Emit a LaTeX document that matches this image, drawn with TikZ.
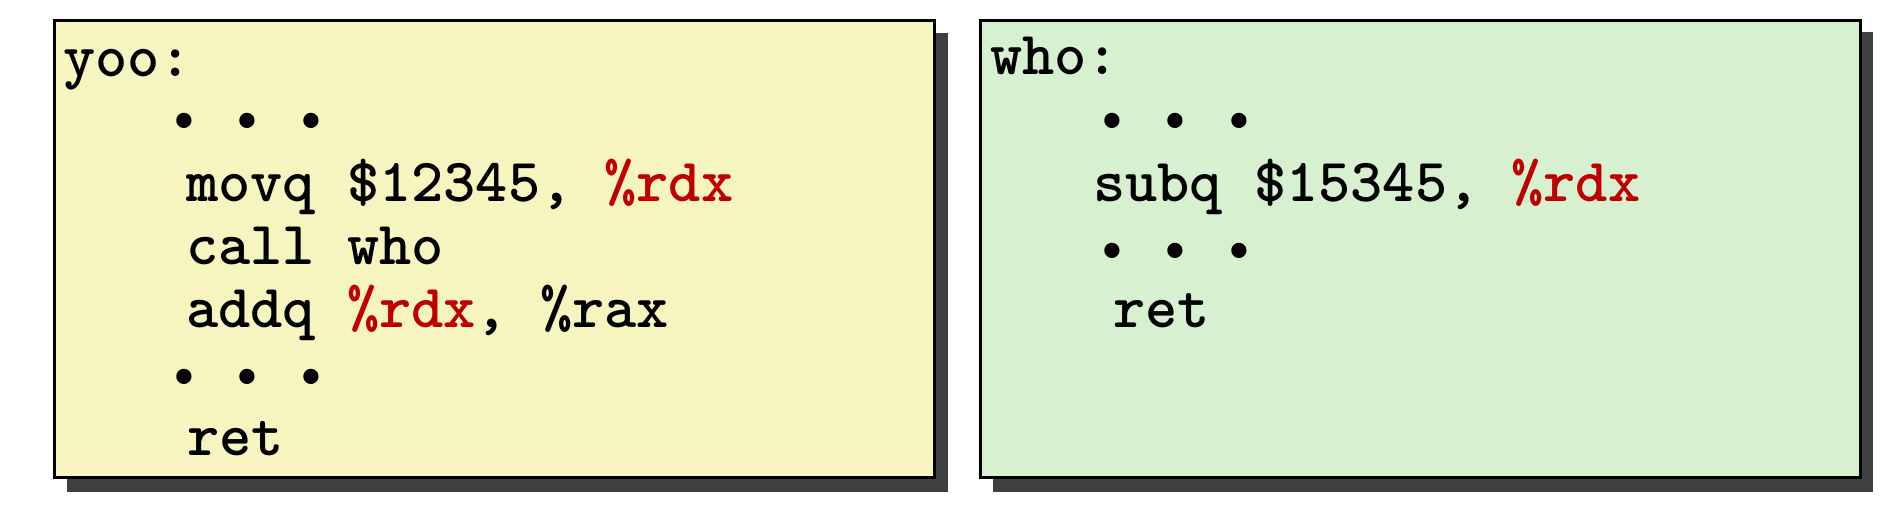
\documentclass[tikz,border=0pt]{standalone}
\usepackage{fontspec}
\newfontfamily\cour{Liberation Mono}
\definecolor{boxyellow}{RGB}{246,245,191}
\definecolor{boxgreen}{RGB}{214,240,208}
\definecolor{shadowgray}{RGB}{64,64,64}
\definecolor{regred}{RGB}{192,0,0}
\begin{document}
\begin{tikzpicture}[x=1pt,y=-1pt,
  code/.style={anchor=base west, inner sep=0pt, font=\ttfamily\bfseries\addfontfeature{FakeBold=1.5}\fontsize{61.3}{66}\selectfont},
  dots/.style={anchor=base west, inner sep=0pt, font=\cour\bfseries\fontsize{53}{60}\selectfont},
  shadowbox/.style={fill=shadowgray},
  codebox/.style={draw=black, line width=3pt}]
\useasboundingbox (0,0) rectangle (1902,510);
% left box
\fill[shadowbox] (67,33) rectangle (948,492);
\draw[codebox, fill=boxyellow] (54.5,20.5) rectangle (934,477);
% right box
\fill[shadowbox] (993,32) rectangle (1873,492);
\draw[codebox, fill=boxgreen] (980.5,20.5) rectangle (1860,477);
% left text
\node[code] (yoo) at (63,77) {yoo:};
\node[dots] (ydots1) at (168,139) {• • •};
\node[code] (ymovq) at (186,202) {movq \$12345, \textcolor{regred}{\%rdx}};
\node[code] (ycall) at (186,265) {call who};
\node[code] (yaddq) at (186,327) {addq \textcolor{regred}{\%rdx}, \%rax};
\node[dots] (ydots2) at (168,394) {• • •};
\node[code] (yret) at (187,455) {ret};
% right text
\node[code] (who) at (990,75) {who:};
\node[dots] (wdots1) at (1096,139) {• • •};
\node[code] (wsubq) at (1093,202) {subq \$15345, \textcolor{regred}{\%rdx}};
\node[dots] (wdots2) at (1096,269) {• • •};
\node[code] (wret) at (1113,327) {ret};
\end{tikzpicture}
\end{document}
